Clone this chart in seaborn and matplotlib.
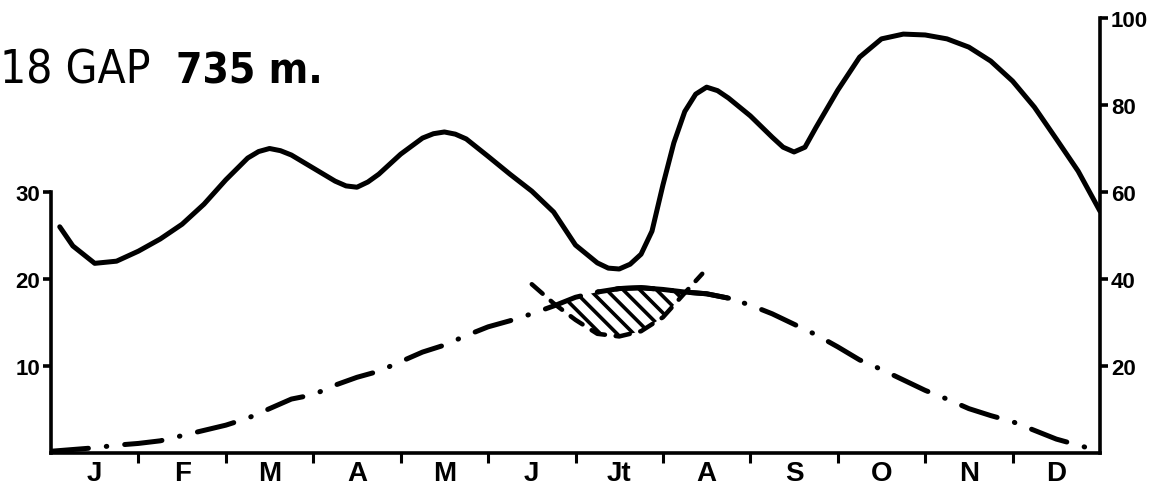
import numpy as np
import matplotlib
matplotlib.use("Agg")
import matplotlib.pyplot as plt
import seaborn as sns

# monthly climate diagram, station 18 GAP (735 m)
month_labels = ["J", "F", "M", "A", "M", "J", "Jt", "A", "S", "O", "N", "D"]

# precipitation (mm, right scale) (month position, value)
precip_month = [0.1, 0.25, 0.5, 0.75, 1.0, 1.25, 1.5, 1.75, 2.0, 2.25, 2.375, 2.5,
                2.625, 2.75, 3.0, 3.25, 3.375, 3.5, 3.625, 3.75, 4.0, 4.25, 4.375,
                4.5, 4.625, 4.75, 5.0, 5.25, 5.5, 5.75, 6.0, 6.25, 6.375, 6.5,
                6.625, 6.75, 6.875, 7.0, 7.125, 7.25, 7.375, 7.5, 7.625, 7.75,
                8.0, 8.25, 8.375, 8.5, 8.625, 8.75, 9.0, 9.25, 9.5, 9.75, 10.0,
                10.25, 10.5, 10.75, 11.0, 11.25, 11.5, 11.75, 12.0]
precip_mm = [52.0, 47.6, 43.6, 44.1, 46.4, 49.2, 52.6, 57.2, 62.8, 67.8, 69.3, 70.0,
             69.5, 68.5, 65.5, 62.5, 61.4, 61.1, 62.3, 64.1, 68.7, 72.4, 73.4,
             73.8, 73.3, 72.2, 68.2, 64.1, 60.2, 55.4, 47.8, 43.7, 42.5, 42.3,
             43.4, 45.7, 51.0, 61.6, 71.3, 78.5, 82.5, 84.1, 83.3, 81.6,
             77.5, 72.6, 70.3, 69.2, 70.3, 74.8, 83.4, 91.0, 95.2, 96.3, 96.1,
             95.2, 93.3, 90.1, 85.5, 79.5, 72.2, 64.8, 55.6]

# mean temperature (deg C, left scale), read every quarter month
temp_month = [0.0, 0.25, 0.5, 0.75, 1.0, 1.25, 1.5, 1.75, 2.0, 2.25, 2.5, 2.75,
              3.0, 3.25, 3.5, 3.75, 4.0, 4.25, 4.5, 4.75, 5.0, 5.25, 5.5, 5.75,
              6.0, 6.25, 6.5, 6.75, 7.0, 7.25, 7.5, 7.75, 8.0, 8.25, 8.5, 8.75,
              9.0, 9.25, 9.5, 9.75, 10.0, 10.25, 10.5, 10.75, 11.0, 11.25, 11.5,
              11.75, 12.0]
temp_c = [0.2, 0.4, 0.6, 0.9, 1.1, 1.4, 2.0, 2.6, 3.2, 4.0, 5.1, 6.2,
          6.7, 7.8, 8.7, 9.4, 10.5, 11.6, 12.4, 13.5, 14.5, 15.2, 16.0, 16.9,
          17.9, 18.5, 18.9, 19.0, 18.8, 18.5, 18.3, 17.8, 17.0, 16.0, 14.8, 13.6,
          12.2, 10.7, 9.6, 8.4, 7.2, 6.2, 5.1, 4.3, 3.6, 2.6, 1.6,
          0.9, 0.2]

# dry-season precipitation curve (dashed, in deg C units), summer only
dry_month = [5.5, 5.75, 6.0, 6.25, 6.5, 6.75, 7.0, 7.25, 7.45]
dry_c = [19.4, 17.2, 15.3, 13.7, 13.4, 14.0, 15.6, 18.4, 20.6]

sns.set_theme(style="white")
plt.rcParams["font.family"] = ["Liberation Sans", "DejaVu Sans"]
plt.rcParams["hatch.linewidth"] = 2.6
for key in ("text.color", "axes.labelcolor", "xtick.color", "ytick.color"):
    plt.rcParams[key] = "black"

W, H = 1163, 489
fig = plt.figure(figsize=(W / 100, H / 100), dpi=100)
ax = fig.add_axes([51 / W, 35 / H, 1049 / W, 452.4 / H])
ax2 = ax.twinx()

lw = 3.6
sns.lineplot(x=precip_month, y=precip_mm, ax=ax2, color="black", lw=lw,
             solid_capstyle="round", solid_joinstyle="round")
sns.lineplot(x=temp_month, y=temp_c, ax=ax, color="black", lw=lw,
             linestyle=(0, (7.5, 3.6, 0.1, 3.6)), dash_capstyle="round")
sns.lineplot(x=dry_month, y=dry_c, ax=ax, color="black", lw=lw * 0.9,
             linestyle=(0, (3.2, 2.4)), dash_capstyle="round")

# dry period hatch between temperature and the dashed curve
t_dry = np.interp(dry_month, temp_month, temp_c)
ax.fill_between(dry_month, dry_c, t_dry, where=np.array(t_dry) > np.array(dry_c),
                interpolate=True, facecolor="none", edgecolor="black",
                hatch="\\\\", linewidth=0)
# temperature drawn solid across the dry spell
summer = [(m, t) for m, t in zip(temp_month, temp_c) if 6.1 <= m <= 7.8]
sns.lineplot(x=[s[0] for s in summer], y=[s[1] for s in summer], ax=ax,
             color="black", lw=lw, solid_capstyle="round")

ax.set_xlim(0, 12)
ax.set_ylim(0, 52)
ax2.set_ylim(0, 104)

for a in (ax, ax2):
    for s in a.spines.values():
        s.set_visible(False)
        s.set_linewidth(2.6)
        s.set_color("black")
ax.spines["left"].set_visible(True)
ax.spines["left"].set_bounds(0, 30)
ax.spines["bottom"].set_visible(True)
ax2.spines["right"].set_visible(True)
ax2.spines["right"].set_bounds(0, 100)

ax.set_yticks([10, 20, 30])
ax.set_yticklabels(["10", "20", "30"])
ax2.set_yticks([20, 40, 60, 80, 100])
ax2.set_yticklabels(["20", "40", "60", "80", "100"])
ax.tick_params(axis="y", direction="out", length=6, width=2.6, pad=2,
               labelsize=16, left=True)
ax2.tick_params(axis="y", direction="out", length=6, width=2.6, pad=2,
                labelsize=16, right=True)

ax.set_xticks(np.arange(1, 12))
ax.set_xticklabels([])
ax.tick_params(axis="x", which="major", direction="out", length=7, width=2.2,
               bottom=True)
ax.set_xticks(np.arange(12) + 0.5, minor=True)
ax.set_xticklabels(month_labels, minor=True)
ax.tick_params(axis="x", which="minor", length=0, pad=5, labelsize=20)
for lab in ax.get_xticklabels(minor=True) + ax.get_yticklabels() + ax2.get_yticklabels():
    lab.set_fontweight("bold")
ax.set_xlabel("")
ax.set_ylabel("")
ax2.set_ylabel("")
ax.grid(False)
ax2.grid(False)
ax.patch.set_visible(False)

title_font = ["DejaVu Sans"]
fig.text(0.5 / W, 1 - 83 / H, "18 GAP", fontsize=33, va="baseline", ha="left",
         family=title_font, fontstretch="condensed")
fig.text(176 / W, 1 - 83 / H, "735 m.", fontsize=30.5, va="baseline", ha="left",
         fontweight="bold", family=title_font, fontstretch="condensed")

fig.savefig("out.png", dpi=100)
